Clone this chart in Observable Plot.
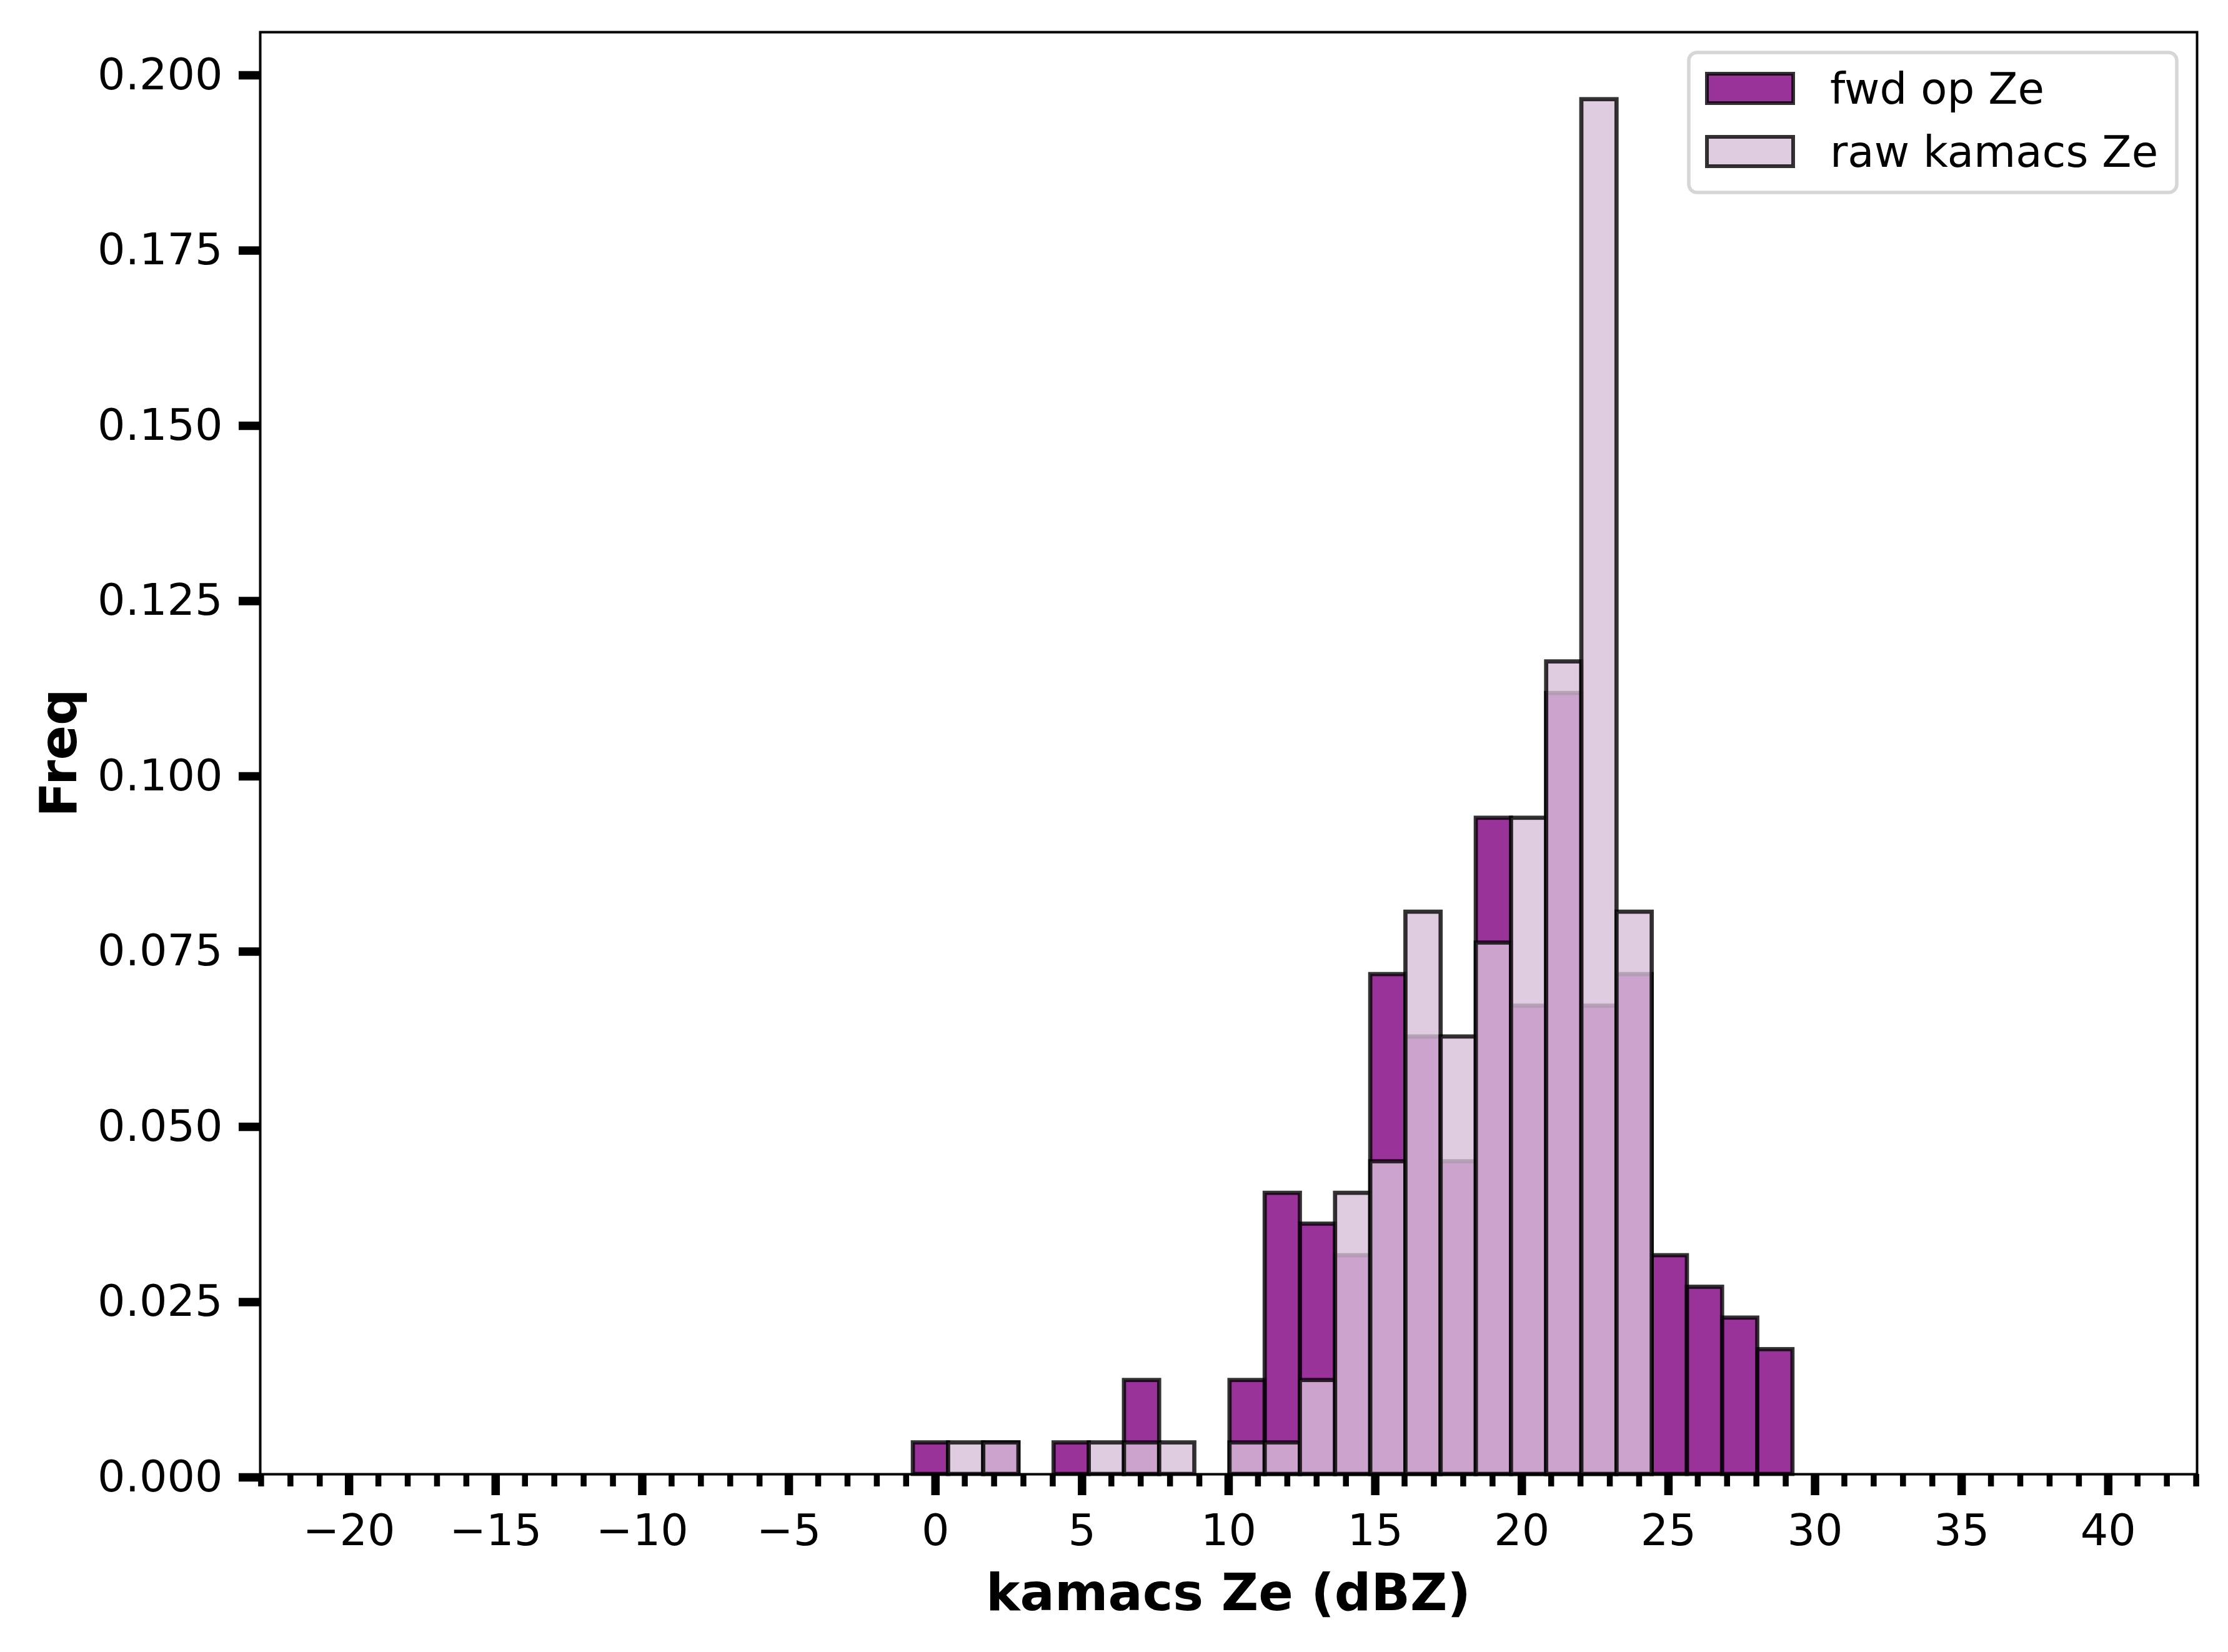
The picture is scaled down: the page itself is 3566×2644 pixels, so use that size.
<!DOCTYPE html>
<html><head><meta charset="utf-8">
<script src="https://cdn.jsdelivr.net/npm/d3@7"></script>
<script src="https://cdn.jsdelivr.net/npm/@observablehq/plot@0.6"></script>
<style>html,body{margin:0;padding:0;background:#fff;overflow:hidden}</style>
</head><body><div id="chart"></div>
<script>
// ---- data ----
const binEdges = [-0.76, 0.44, 1.64, 2.84, 4.04, 5.24, 6.44, 7.64, 8.84, 10.04, 11.24, 12.44, 13.64,
  14.84, 16.04, 17.24, 18.44, 19.64, 20.84, 22.04, 23.24, 24.44, 25.64, 26.84, 28.04, 29.24];
const fwdFreq = [0.0045, 0, 0.0045, 0, 0.0045, 0, 0.0134, 0, 0, 0.0134, 0.0401, 0.0357, 0.0312,
  0.0713, 0.0624, 0.0446, 0.0936, 0.0668, 0.1114, 0.0668, 0.0713, 0.0312, 0.0267, 0.0223, 0.0178];
const rawFreq = [0, 0.0045, 0.0045, 0, 0, 0.0045, 0.0045, 0.0045, 0, 0.0045, 0.0045, 0.0134, 0.0401,
  0.0446, 0.0802, 0.0624, 0.0758, 0.0936, 0.1159, 0.1961, 0.0802, 0, 0, 0, 0];
const seriesNames = ["fwd op Ze", "raw kamacs Ze"];
const seriesColors = ["purple", "thistle"];
const xMajorTicks = [-20, -15, -10, -5, 0, 5, 10, 15, 20, 25, 30, 35, 40];
const xMinorTicks = d3.range(-23, 44);
const yTicks = [0, 0.025, 0.05, 0.075, 0.1, 0.125, 0.15, 0.175, 0.2];
const xLabel = "kamacs Ze (dBZ)";
const yLabel = "Freq";

const toRows = (freqs, series) => freqs
  .map((f, i) => ({x1: binEdges[i], x2: binEdges[i + 1], freq: f, series}))
  .filter(d => d.freq > 0);
const fwdRows = toRows(fwdFreq, seriesNames[0]);
const rawRows = toRows(rawFreq, seriesNames[1]);
const minus = d => d < 0 ? "\u2212" + Math.abs(d) : String(d);

const W = 3566, H = 2644;
const mL = 416, mR = 50, mT = 51, mB = 285;
const FONT = "DejaVu Sans";
const barStyle = {stroke: "black", strokeOpacity: 0.8, strokeWidth: 6.7, fillOpacity: 0.8};

const chart = Plot.plot({
  width: W, height: H,
  marginLeft: mL, marginRight: mR, marginTop: mT, marginBottom: mB,
  style: {fontFamily: FONT, background: "white", color: "black"},
  x: {domain: [-23.03, 43.03]},
  y: {domain: [0, 0.2057]},
  marks: [
    Plot.rectY(fwdRows, {x1: "x1", x2: "x2", y: "freq", fill: seriesColors[0], ...barStyle}),
    Plot.rectY(rawRows, {x1: "x1", x2: "x2", y: "freq", fill: seriesColors[1], ...barStyle}),
    Plot.frame({stroke: "black", strokeWidth: 4}),
    Plot.axisX({ticks: xMinorTicks, tickSize: 20, strokeWidth: 9.5, tickFormat: () => "", label: null}),
    Plot.axisX({ticks: xMajorTicks, tickSize: 34, strokeWidth: 13.5, tickPadding: 30,
      tickFormat: minus, fontSize: 70, label: null}),
    Plot.axisY({ticks: yTicks, tickSize: 34, strokeWidth: 13.5, tickPadding: 26,
      tickFormat: d3.format(".3f"), fontSize: 70, label: null, dy: 5})
  ]
});

const svg = d3.select(chart);
// axis labels
svg.append("text")
  .attr("x", (mL + (W - mR)) / 2).attr("y", 2577)
  .attr("text-anchor", "middle").attr("font-family", FONT)
  .attr("font-weight", "bold").attr("font-size", 82).attr("fill", "black")
  .text(xLabel);
svg.append("text")
  .attr("transform", `translate(122,${(mT + (H - mB)) / 2}) rotate(-90)`)
  .attr("text-anchor", "middle").attr("font-family", FONT)
  .attr("font-weight", "bold").attr("font-size", 82).attr("fill", "black")
  .text(yLabel);

// legend
const lg = svg.append("g");
lg.append("rect")
  .attr("x", 2703).attr("y", 84).attr("width", 781).attr("height", 224)
  .attr("rx", 13).attr("ry", 13)
  .attr("fill", "white").attr("fill-opacity", 0.8)
  .attr("stroke", "#cccccc").attr("stroke-opacity", 0.8).attr("stroke-width", 5.5);
seriesNames.forEach((name, i) => {
  const y0 = 115 + i * 101;
  lg.append("rect")
    .attr("x", 2732).attr("y", y0 + 3).attr("width", 138).attr("height", 47)
    .attr("fill", seriesColors[i]).attr("fill-opacity", 0.8)
    .attr("stroke", "black").attr("stroke-opacity", 0.8).attr("stroke-width", 6);
  lg.append("text")
    .attr("x", 2929).attr("y", y0 + 51)
    .attr("text-anchor", "start")
    .attr("font-family", FONT).attr("font-size", 69).attr("fill", "black")
    .text(name);
});

document.getElementById("chart").appendChild(chart);
</script>
</body></html>
